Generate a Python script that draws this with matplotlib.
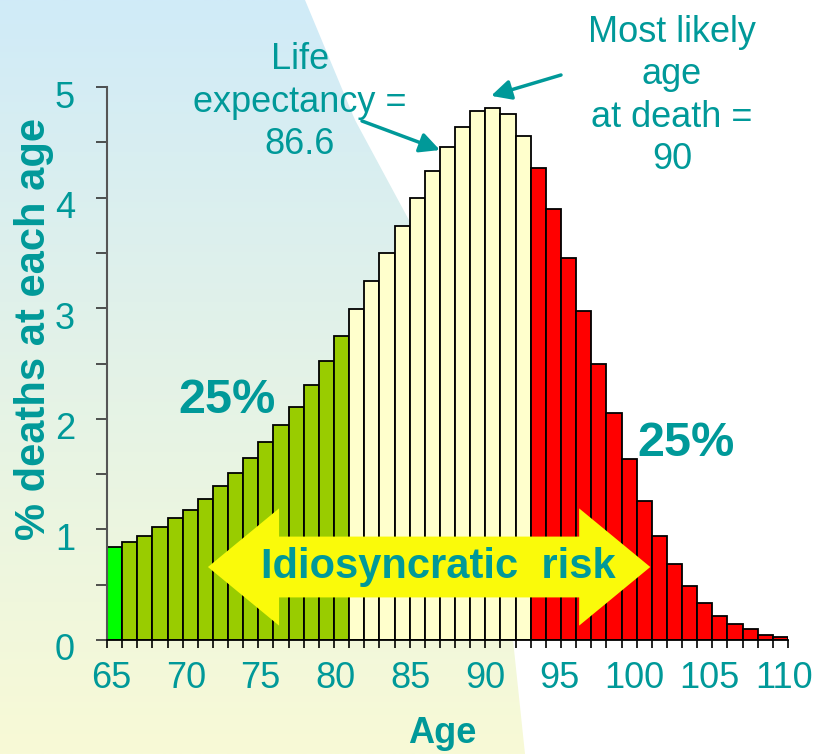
import matplotlib.pyplot as plt
import matplotlib.transforms as mtransforms
from matplotlib.patches import Polygon
import numpy as np

plt.rcParams['font.family'] = ['Liberation Sans', 'DejaVu Sans']

# % of deaths at each age
ages = np.arange(65, 110)
deaths = [0.844, 0.889, 0.943, 1.019, 1.100, 1.175, 1.275, 1.392, 1.513, 1.646,
          1.793, 1.944, 2.110, 2.303, 2.523, 2.749, 2.990, 3.246, 3.502, 3.746,
          3.999, 4.243, 4.460, 4.635, 4.783, 4.813, 4.756, 4.557, 4.265, 3.900,
          3.451, 2.977, 2.493, 2.050, 1.634, 1.260, 0.940, 0.684, 0.491, 0.332,
          0.220, 0.142, 0.097, 0.042, 0.027]
tick_ages = [65, 70, 75, 80, 85, 90, 95, 100, 105, 110]
green_end, yellow_end = 80, 92   # last age of the lower / middle quartile groups

TEAL = '#009999'
W, H = 819, 754

fig = plt.figure(figsize=(W / 100, H / 100), dpi=100)

# background: blue->yellow gradient on the left, white on the right
bg = fig.add_axes([0, 0, 1, 1], zorder=-5)
grad = np.linspace(0, 1, 256)[:, None]
c_top = np.array([0xD0, 0xEB, 0xF8]) / 255
c_bot = np.array([0xF8, 0xFA, 0xD6]) / 255
img = c_top[None, None, :] * (1 - grad[:, :, None]) + c_bot[None, None, :] * grad[:, :, None]
bg.imshow(img, extent=(0, W, H, 0), aspect='auto')
yy = np.linspace(0, H, 200)
edge_x = np.interp(yy, [0, 120, 222, 330, 450, 640, 754],
                   [305, 355, 410, 448, 478, 513, 525])
bg.fill_betweenx(yy, edge_x, W, color='white', lw=0)
bg.set_xlim(0, W)
bg.set_ylim(H, 0)
bg.axis('off')

ax = fig.add_axes([107 / W, 1 - 640 / H, 681 / W, 553 / H])
ax.set_facecolor('none')

colors = []
for a in ages:
    if a == 65:
        colors.append('#00FF00')
    elif a <= green_end:
        colors.append('#99CC00')
    elif a <= yellow_end:
        colors.append('#FFFFCC')
    else:
        colors.append('#FF0000')

ax.bar(ages, deaths, width=1.0, align='edge', color=colors,
       edgecolor='black', linewidth=1.3, zorder=2)

ax.set_xlim(65, 110)
ax.set_ylim(0, 5)

for s in ['top', 'right']:
    ax.spines[s].set_visible(False)
ax.spines['left'].set_color('#555555')
ax.spines['left'].set_linewidth(1.5)
ax.spines['bottom'].set_color('black')
ax.spines['bottom'].set_linewidth(1.3)

ax.set_xticks(tick_ages)
ax.set_xticklabels([str(t) for t in tick_ages])
ax.set_xticks(np.arange(65, 111), minor=True)
ax.set_yticks(range(0, 6))
ax.set_yticks(np.arange(0, 5.01, 0.5), minor=True)
ax.tick_params(axis='x', which='both', length=6, width=1.2, color='black',
               direction='out')
ax.tick_params(axis='x', which='major', labelsize=26, labelcolor=TEAL, pad=9)
ax.tick_params(axis='y', which='both', length=8, width=1.2, color='#333333',
               direction='out')
ax.tick_params(axis='y', which='major', labelsize=26, labelcolor=TEAL, pad=15)

offset = mtransforms.ScaledTranslation(0, -0.07, fig.dpi_scale_trans)
for lab in ax.get_yticklabels():
    lab.set_transform(lab.get_transform() + offset)
# labels sit slightly inward of the bar edges, as in the original slide
for lab, t in zip(ax.get_xticklabels(), tick_ages):
    dx = (4 - 8 * (t - 65) / 45) / 100
    lab.set_transform(lab.get_transform()
                      + mtransforms.ScaledTranslation(dx, 0, fig.dpi_scale_trans))

ax.set_xlabel('Age', fontsize=26, fontweight='bold', color=TEAL)
ax.xaxis.set_label_coords(0.492, -0.138)
ax.set_ylabel('% deaths at each age', fontsize=30, fontweight='bold', color=TEAL)
ax.yaxis.set_label_coords(-0.078, 0.562)

# double-headed yellow arrow
x0, x1, x2, x3 = 71.67, 76.37, 96.2, 100.9
yc, sh, hh = 0.66, 0.275, 0.53
arrow = Polygon([(x0, yc), (x1, yc + hh), (x1, yc + sh), (x2, yc + sh),
                 (x2, yc + hh), (x3, yc), (x2, yc - hh), (x2, yc - sh),
                 (x1, yc - sh), (x1, yc - hh)],
                closed=True, facecolor='#FAFA0A', edgecolor='none', zorder=3)
ax.add_patch(arrow)
ax.text(86.9, yc, 'Idiosyncratic  risk', ha='center', va='center',
        fontsize=30, fontweight='bold', color=TEAL, zorder=4)

# quartile labels
fig.text(227 / W, 1 - 400 / H, '25%', ha='center', va='center',
         fontsize=35, fontweight='bold', color=TEAL)
fig.text(686 / W, 1 - 443 / H, '25%', ha='center', va='center',
         fontsize=35, fontweight='bold', color=TEAL)

# annotations
fig.text(300 / W, 1 - 102 / H, 'Life\nexpectancy =\n86.6', ha='center',
         va='center', fontsize=26, color=TEAL, linespacing=1.28)
fig.text(672 / W, 1 - 96 / H, 'Most likely\nage\nat death =\n90', ha='center',
         va='center', fontsize=26, color=TEAL, linespacing=1.28)

ax.annotate('', xy=(87.0, 4.43), xycoords='data',
            xytext=(362, H - 121), textcoords='figure pixels',
            arrowprops=dict(arrowstyle='-|>', color=TEAL, lw=2.5,
                            mutation_scale=30, shrinkA=0, shrinkB=0))
ax.annotate('', xy=(90.38, 4.92), xycoords='data',
            xytext=(561, H - 75), textcoords='figure pixels',
            arrowprops=dict(arrowstyle='-|>', color=TEAL, lw=2.5,
                            mutation_scale=30, shrinkA=0, shrinkB=0))

fig.savefig('out.png', dpi=100)
